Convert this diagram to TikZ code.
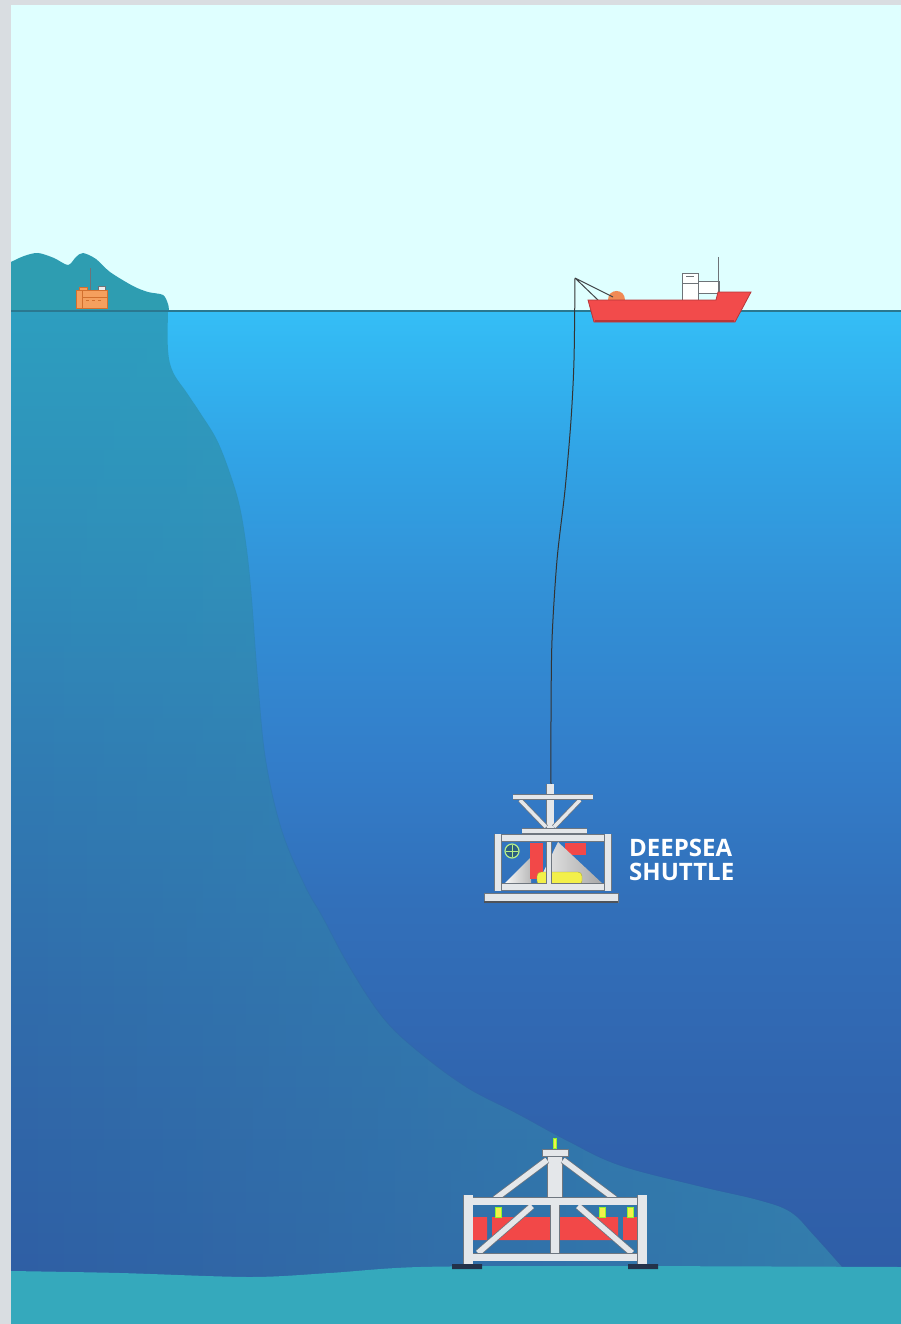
\documentclass[tikz,border=0pt]{standalone}
\usepackage{fontspec}
\setsansfont{Open Sans}
\usetikzlibrary{positioning,fadings}

\definecolor{frame}{HTML}{D9DDE1}
\definecolor{sky}{HTML}{DFFFFF}
\definecolor{watertop}{HTML}{34BEF6}
\definecolor{waterA}{HTML}{31A4E6}
\definecolor{waterB}{HTML}{3290D6}
\definecolor{waterC}{HTML}{337ECA}
\definecolor{waterD}{HTML}{3270BA}
\definecolor{waterE}{HTML}{3064AE}
\definecolor{waterdeep}{HTML}{2F5CA5}
\definecolor{slopetop}{HTML}{2D9EC0}
\definecolor{slopeA}{HTML}{2F8EBA}
\definecolor{slopeB}{HTML}{307CB3}
\definecolor{slopeC}{HTML}{306CAB}
\definecolor{slopebot}{HTML}{2F5EA4}
\definecolor{slopelight}{HTML}{3AAAB9}
\definecolor{seabed}{HTML}{35A9BC}
\definecolor{hill}{HTML}{2E9DB1}
\definecolor{waterline}{HTML}{2A7890}
\definecolor{hullred}{HTML}{F24B4B}
\definecolor{hulldark}{HTML}{B83538}
\definecolor{dome}{HTML}{F08A55}
\definecolor{shipgrey}{HTML}{6E7378}
\definecolor{tubeedge}{HTML}{6F7780}
\definecolor{tubefill}{HTML}{E4E7EA}
\definecolor{lampyellow}{HTML}{F3F04A}
\definecolor{bandred}{HTML}{F24848}
\definecolor{building}{HTML}{F5A05E}
\definecolor{buildedge}{HTML}{D2702E}
\definecolor{ringgreen}{HTML}{B8F088}
\definecolor{shuttledark}{HTML}{2C5F80}
\definecolor{footdark}{HTML}{23324A}

% sea and slope gradients (path box sits between 25bp and 75bp)
\pgfdeclareverticalshading{seawater}{100bp}{color(0bp)=(waterdeep); color(25bp)=(waterdeep);
  color(36bp)=(waterE); color(46bp)=(waterD); color(53bp)=(waterC); color(61bp)=(waterB);
  color(68bp)=(waterA); color(75bp)=(watertop); color(100bp)=(watertop)}
\pgfdeclareverticalshading{seaslope}{100bp}{color(0bp)=(slopebot); color(25bp)=(slopebot);
  color(40bp)=(slopeC); color(52bp)=(slopeB); color(63bp)=(slopeA);
  color(75bp)=(slopetop); color(100bp)=(slopetop)}
\tikzfading[name=fade in right, left color=transparent!100, right color=transparent!0]

\begin{document}
\begin{tikzpicture}[x=1pt,y=-1pt,
    tube/.style={draw=tubeedge, line width=0.8pt, double=tubefill, double distance=#1},
    tube/.default=5pt,
    hull/.style={fill=hullred, draw=hulldark, line width=0.8pt},
    cabin/.style={fill=white, draw=shipgrey, line width=0.6pt},
    cable/.style={draw=black!80, line width=1pt},
    lamp/.style={fill=lampyellow, draw=lampyellow!60!green, line width=0.4pt},
    shuttletext/.style={font=\sffamily\bfseries\fontsize{24}{24}\selectfont,
      text=white, inner sep=0pt}
    ]
    \fill[frame] (0,0) rectangle (901,1324);
    \useasboundingbox (0,0) rectangle (901,1324);

    % sky and sea
    \fill[sky] (11,5) rectangle (901,311);
    \shade[shading=seawater] (11,311) rectangle (901,1324);

    % continental slope
    \shade[shading=seaslope,
      postaction={fill=slopelight, fill opacity=0.4, path fading=fade in right}]
      (11,311) -- plot[smooth, tension=0.6] coordinates {(168,311) (168,350) (173,372)
      (187,393) (201,414) (217,440) (230,473) (240,507) (247,550) (252,600) (258,680)
      (266,760) (282,830) (305,885) (323,917) (350,967) (383,1017) (417,1050) (467,1087)
      (517,1113) (567,1140) (620,1165) (700,1186) (760,1200) (792,1212) (815,1235)
      (848,1272)} -- (850,1285) -- (11,1285) -- cycle;

    % sea floor
    \fill[seabed] plot[smooth] coordinates {(11,1271) (120,1273) (250,1277) (330,1273)
      (420,1267) (600,1266) (901,1267)} -- (901,1324) -- (11,1324) -- cycle;

    % island
    \fill[hill] plot[smooth] coordinates {(11,262) (24,256) (38,253) (54,258) (68,265)
      (76,257) (83,253) (96,259) (110,272) (133,286) (148,292) (163,295) (168,304)
      (169,311)} -- (11,311) -- cycle;
    \draw[shipgrey, line width=0.8pt] (90,268) -- (90,290);
    \filldraw[fill=white!85!gray, draw=shipgrey, line width=0.4pt] (98,286) rectangle (105,290);
    \filldraw[fill=building, draw=buildedge, line width=0.6pt] (76,290) rectangle (107,308);
    \filldraw[fill=building, draw=buildedge, line width=0.5pt] (79,287) rectangle (87,290);
    \draw[buildedge, line width=0.5pt] (82,290) -- (82,308) (82,297) -- (107,297)
      (86,300) -- (89,300) (92,300) -- (95,300) (98,300) -- (101,300);

    \draw[waterline, line width=1.2pt] (11,311) -- (901,311);

    % ship
    \coordinate (crane) at (575,278);
    \filldraw[cabin] (682,273) rectangle (698,300);
    \draw[shipgrey, line width=0.6pt] (682,283) -- (698,283) (686,276) -- (694,276);
    \filldraw[cabin] (698,281) rectangle (719,293);
    \draw[shipgrey, line width=0.9pt] (718,257) -- (718,293);
    \fill[dome] (608,300) .. controls (608,288) and (625,288) .. (625,300) -- cycle;
    \draw[shipgrey!60!black, line width=1pt] (crane) -- (599,301) (crane) -- (613,297);
    \filldraw[hull] (588,300) -- (716,300) -- (718,292) -- (751,292) -- (735,322)
      -- (594,322) -- cycle;
    \draw[hulldark, line width=1.4pt] (595,321) -- (734,321);

    % shuttle on its cable
    \coordinate (hook) at (551,786);
    \draw[cable] plot[smooth] coordinates {(crane) (574,360) (571,420) (565,490)
      (557,560) (552,640) (551,720) (hook)};

    \shade[left color=white, right color=gray!55] (502,886) -- (531,857) -- (531,886) -- cycle;
    \filldraw[fill=shuttledark, draw=ringgreen, line width=1.2pt] (512,851) circle (7);
    \draw[ringgreen, line width=0.6pt] (506,851) -- (518,851) (512,845) -- (512,857);
    \fill[bandred] (530,843) rectangle (543,879);
    \fill[bandred] (565,843) rectangle (586,855);
    \shade[left color=gray!15, right color=gray!70] (558,842) -- (604,885) -- (537,885) -- cycle;
    \filldraw[fill=lampyellow, draw=lampyellow!70!black, line width=0.4pt,
      rounded corners=4pt] (537,872) rectangle (582,885);

    \draw[tube=7pt] (550,784) -- (550,832);
    \draw[tube=3.5pt] (520,800) -- (546,827) (580,800) -- (554,827);
    \draw[tube=4.5pt] (513,797) -- (593,797);
    \draw[tube=4.5pt] (522,831) -- (587,831);
    \draw[tube=6pt] (494,838) -- (612,838);
    \draw[tube=6pt] (494,887) -- (612,887);
    \draw[tube=6pt] (498,834) -- (498,891) (608,834) -- (608,891);
    \draw[tube=4pt] (549,842) -- (549,884);
    \filldraw[fill=tubefill, draw=tubeedge, line width=0.8pt] (484,893) rectangle (618,902);
    \draw[tubeedge!70!black, line width=1.2pt] (484,902) -- (618,902);

    \node[shuttletext, anchor=base west] (deep) at (629,856) {DEEPSEA};
    \node[shuttletext, anchor=base west] (shut) at ([yshift=-24pt]deep.base west) {SHUTTLE};

    % sea floor station
    \fill[bandred] (473,1217) rectangle (487,1240) (492,1217) rectangle (618,1240)
      (623,1217) rectangle (637,1240);
    \fill[lamp] (495,1207) rectangle (501,1217) (599,1207) rectangle (605,1217)
      (627,1207) rectangle (633,1217);
    \fill[lamp] (553,1138) rectangle (556,1148);
    \draw[tube=8pt] (555,1205) -- (555,1256);
    \draw[tube=14pt] (555,1155) -- (555,1199);
    \filldraw[fill=tubefill, draw=tubeedge, line width=0.6pt] (542,1149) rectangle (568,1156);
    \draw[tube=5.5pt] (547,1160) -- (495,1199) (563,1160) -- (615,1199);
    \draw[tube=5.5pt] (478,1253) -- (532,1206) (578,1206) -- (632,1253);
    \draw[tube=7pt] (468,1201) -- (642,1201);
    \draw[tube=7pt] (468,1257) -- (642,1257);
    \draw[tube=9pt] (468,1195) -- (468,1266) (642,1195) -- (642,1266);
    \fill[footdark] (452,1264) rectangle (482,1269) (628,1264) rectangle (658,1269);
\end{tikzpicture}
\end{document}
